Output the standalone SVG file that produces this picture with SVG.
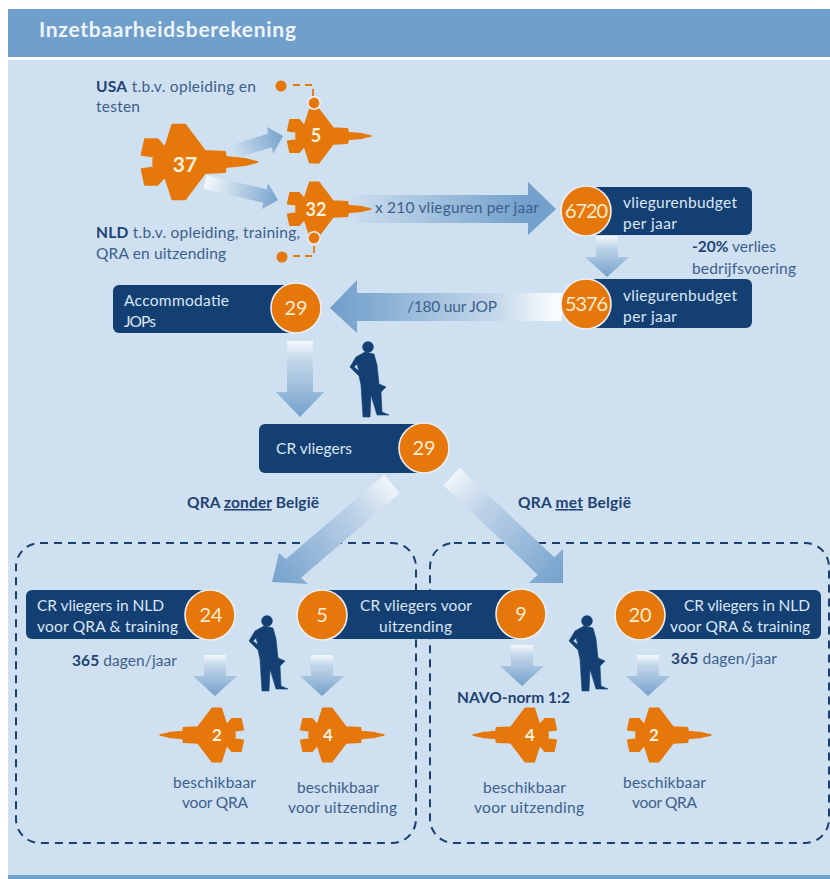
<svg xmlns="http://www.w3.org/2000/svg" width="830" height="879" viewBox="0 0 830 879">
<style>
text{font-family:"Lato","Open Sans","Liberation Sans",sans-serif;font-size:15.5px;fill:#3d5f8c}
.b{font-weight:700;fill:#1f4272}
.w{fill:#dbe7f3}
.n{fill:#fdebd2;font-size:20px;text-anchor:middle}
.j{fill:#fdf0dc;font-weight:700;text-anchor:middle}
.box{fill:#143f73}
.c{fill:#e5770b;stroke:#e9eff5;stroke-width:1.6}
.jet{fill:#e5770b;stroke:#e5770b;stroke-width:6;stroke-linejoin:round}
.pilot{fill:#143f73;fill-rule:evenodd;stroke:#143f73;stroke-width:.6;stroke-linejoin:round}
.dash{fill:none;stroke:#1a3f70;stroke-width:2;stroke-dasharray:8 6}
.odash{fill:none;stroke:#e5770b;stroke-width:1.8;stroke-dasharray:7 5}
.dot{fill:#e5770b}
</style>
<defs>
<linearGradient id="gDown" x1="0" y1="0" x2="0" y2="1"><stop offset="0" stop-color="#f4f8fc"/><stop offset=".25" stop-color="#c4d7ea"/><stop offset="1" stop-color="#74a1cc"/></linearGradient>
<linearGradient id="gR" gradientUnits="userSpaceOnUse" x1="345" y1="0" x2="556" y2="0"><stop offset="0" stop-color="#cfe0f0"/><stop offset=".85" stop-color="#74a1cc"/></linearGradient>
<linearGradient id="gL" gradientUnits="userSpaceOnUse" x1="330" y1="0" x2="562" y2="0"><stop offset="0" stop-color="#6f9ecb"/><stop offset=".72" stop-color="#c5d8eb"/><stop offset=".97" stop-color="#fafcfe"/></linearGradient>
<linearGradient id="gD1" gradientUnits="userSpaceOnUse" x1="392" y1="484" x2="272" y2="582"><stop offset="0" stop-color="#f0f5fa"/><stop offset=".3" stop-color="#bdd2e8"/><stop offset="1" stop-color="#74a1cc"/></linearGradient>
<linearGradient id="gD2" gradientUnits="userSpaceOnUse" x1="451" y1="476" x2="563" y2="583"><stop offset="0" stop-color="#f0f5fa"/><stop offset=".3" stop-color="#bdd2e8"/><stop offset="1" stop-color="#74a1cc"/></linearGradient>
<linearGradient id="gS1" gradientUnits="userSpaceOnUse" x1="232" y1="152" x2="283" y2="136"><stop offset="0" stop-color="#cfe0f0"/><stop offset="1" stop-color="#78a4ce"/></linearGradient>
<linearGradient id="gS2" gradientUnits="userSpaceOnUse" x1="205" y1="182" x2="278" y2="200"><stop offset="0" stop-color="#f4f8fc"/><stop offset="1" stop-color="#78a4ce"/></linearGradient>
<polygon id="down" points="-11,0 11,0 11,21 22,21 0,41 -22,21 -11,21" fill="url(#gDown)"/>
<path id="jetShape" class="jet" d="M187,0 150,-9 92,-15 90,-30 30,-33 -30,-112 -68,-112 -90,-43 -112,-68 -150,-68 -160,-22 -115,-15 -125,-10 -125,10 -115,15 -160,22 -150,68 -112,68 -90,43 -68,112 -30,112 30,33 90,30 92,15 150,9Z"/>
<g id="pilotShape"><circle cx="0" cy="0" r="5.7" fill="#143f73"/><path class="pilot" d="M-3,5 -12,10 -18,20 -9,29 -7,38 -5,70 2,70 3,48 9,68 21,68 14,65 13,45 18,40 11,37 9,18 6,7Z M-11,17 -14,20 -9,24Z"/></g>
</defs>
<rect x="0" y="0" width="830" height="879" fill="#fff"/>
<rect x="8" y="60" width="822" height="815" fill="#cfe0f0"/>
<rect x="8" y="9" width="822" height="48" fill="#6f9fcb"/>
<rect x="8" y="875" width="822" height="4" fill="#6f9fcb"/>
<text x="39" y="37" textLength="257" style="font-size:21px;font-weight:700;fill:#eef4fa">Inzetbaarheidsberekening</text>
<rect id="scenarioLeft" class="dash" x="16" y="543" width="400" height="300" rx="24"/>
<rect id="scenarioRight" class="dash" x="430" y="543" width="399" height="300" rx="24"/>
<g id="connectors">
<path class="odash" d="M293,85H313V96M314,246V256H292"/>
<polygon points="230,145.3 268,133.8 267,127 283,136 273,154 272,147.2 234,158.7" fill="url(#gS1)"/>
<polygon points="206.7,175.2 266.7,189.2 268,183 278,200 262,209 263.3,202.8 203.3,188.8" fill="url(#gS2)"/>
<polygon points="345,195 528,195 528,182 556,209 528,235 528,223 345,223" fill="url(#gR)"/>
<use href="#down" transform="translate(607,236)"/>
<polygon points="562,293 357,293 357,280 330,308 357,333 357,321 562,321" fill="url(#gL)"/>
<polygon points="287,341 313,341 313,392 324,392 300,417 276,392 287,392" fill="url(#gDown)"/>
<polygon points="399.6,493.3 301,577.8 308,584 272,582 279,553 286,559 384.4,474.7" fill="url(#gD1)"/>
<polygon points="443.2,485.2 537.7,574.7 529,583 563,583 563,549 554.3,557.3 459.8,467.8" fill="url(#gD2)"/>
<use href="#down" transform="translate(215,655)"/>
<use href="#down" transform="translate(322,655)"/>
<use href="#down" transform="translate(522,645)"/>
<use href="#down" transform="translate(648,655)"/>
</g>
<g id="legendUSA"><circle class="dot" cx="281" cy="86" r="5.5"/>
<text x="96" y="92" textLength="160"><tspan class="b">USA</tspan> t.b.v. opleiding en</text><text x="96" y="112" textLength="44">testen</text></g>
<g id="jet37"><use href="#jetShape" transform="translate(195,162) scale(.333)"/><text class="j" x="185" y="172" style="font-size:21px">37</text></g>
<g id="jet5"><use href="#jetShape" transform="translate(326,136) scale(.24)"/><circle class="c" cx="314" cy="103" r="6.2"/><text class="j" x="316" y="142" style="font-size:18px">5</text></g>
<g id="jet32"><use href="#jetShape" transform="translate(326,209) scale(.24)"/><text class="j" x="316" y="216" style="font-size:18px">32</text></g>
<g id="legendNLD"><circle class="c" cx="314" cy="238" r="6.2"/><circle class="dot" cx="282" cy="257" r="5.5"/>
<text x="96" y="238" textLength="204"><tspan class="b">NLD</tspan> t.b.v. opleiding, training,</text><text x="96" y="259" textLength="130">QRA en uitzending</text></g>
<text id="labelHours" x="375" y="213" textLength="164">x 210 vlieguren per jaar</text>
<g id="budget6720"><rect class="box" x="590" y="187" width="162" height="48" rx="6"/><circle class="c" cx="586" cy="211" r="25"/><text class="n" x="565" y="218" textLength="43" style="text-anchor:start">6720</text>
<text class="w" x="623" y="208" textLength="114">vliegurenbudget</text><text class="w" x="623" y="229" textLength="54">per jaar</text></g>
<text id="labelLoss1" x="692" y="252" textLength="84"><tspan class="b">-20%</tspan> verlies</text>
<text id="labelLoss2" x="692" y="274" textLength="104">bedrijfsvoering</text>
<g id="budget5376"><rect class="box" x="590" y="279" width="162" height="49" rx="6"/><circle class="c" cx="586" cy="304" r="25"/><text class="n" x="565" y="311" textLength="43" style="text-anchor:start">5376</text>
<text class="w" x="623" y="301" textLength="114">vliegurenbudget</text><text class="w" x="623" y="322" textLength="54">per jaar</text></g>
<text id="labelJOP" x="407" y="312" textLength="90">/180 uur JOP</text>
<g id="accommodatie"><rect class="box" x="113" y="285" width="180" height="48" rx="6"/><circle class="c" cx="296" cy="308" r="25"/><text class="n" x="296" y="315">29</text>
<text class="w" x="124" y="306" textLength="105">Accommodatie</text><text class="w" x="124" y="327" textLength="32">JOPs</text></g>
<use id="pilot1" href="#pilotShape" transform="translate(368,347)"/>
<g id="crVliegers"><rect class="box" x="259" y="424" width="165" height="49" rx="6"/><circle class="c" cx="424" cy="448" r="25"/><text class="n" x="424" y="455">29</text>
<text class="w" x="276" y="454" textLength="76">CR vliegers</text></g>
<text id="labelZonder" class="b" x="187" y="508" textLength="132">QRA <tspan text-decoration="underline">zonder</tspan> België</text>
<text id="labelMet" class="b" x="518" y="508" textLength="113">QRA <tspan text-decoration="underline">met</tspan> België</text>
<g id="crNld24"><rect class="box" x="26" y="590" width="179" height="49" rx="6"/><circle class="c" cx="210" cy="615" r="25"/><text class="n" x="211" y="622">24</text>
<text class="w" x="37" y="611" textLength="127">CR vliegers in NLD</text><text class="w" x="37" y="632" textLength="141">voor QRA &amp; training</text></g>
<g id="crUitzending"><rect class="box" x="327" y="590" width="189" height="49"/><circle class="c" cx="322" cy="615" r="25"/><text class="n" x="322" y="622">5</text><circle class="c" cx="521" cy="614" r="25"/><text class="n" x="521" y="621">9</text>
<text class="w" x="360" y="611" textLength="112">CR vliegers voor</text><text class="w" x="379" y="632" textLength="73">uitzending</text></g>
<g id="crNld20"><rect class="box" x="645" y="590" width="176" height="49" rx="6"/><circle class="c" cx="640" cy="615" r="25"/><text class="n" x="640" y="622">20</text>
<text class="w" x="684" y="611" textLength="126">CR vliegers in NLD</text><text class="w" x="670" y="632" textLength="140">voor QRA &amp; training</text></g>
<use id="pilot2" href="#pilotShape" transform="translate(267,621)"/>
<use id="pilot3" href="#pilotShape" transform="translate(587,621)"/>
<text id="days1" x="72" y="666" textLength="105"><tspan class="b">365</tspan> dagen/jaar</text>
<text id="days2" x="671" y="664" textLength="106"><tspan class="b">365</tspan> dagen/jaar</text>
<text id="navo" class="b" x="457" y="703" textLength="113">NAVO-norm 1:2</text>
<g id="jetQraL"><use href="#jetShape" transform="translate(205,735) scale(-.24,.24)"/><text class="j" x="217" y="741" style="font-size:17px">2</text>
<text x="173" y="788" textLength="83">beschikbaar</text><text x="182" y="808" textLength="66">voor QRA</text></g>
<g id="jetUitL"><use href="#jetShape" transform="translate(339,735) scale(.24)"/><text class="j" x="328" y="741" style="font-size:17px">4</text>
<text x="297" y="793" textLength="82">beschikbaar</text><text x="288" y="813" textLength="109">voor uitzending</text></g>
<g id="jetUitR"><use href="#jetShape" transform="translate(518,735) scale(-.24,.24)"/><text class="j" x="530" y="741" style="font-size:17px">4</text>
<text x="483" y="793" textLength="83">beschikbaar</text><text x="474" y="813" textLength="110">voor uitzending</text></g>
<g id="jetQraR"><use href="#jetShape" transform="translate(666,735) scale(.24)"/><text class="j" x="654" y="741" style="font-size:17px">2</text>
<text x="623" y="788" textLength="83">beschikbaar</text><text x="632" y="808" textLength="65">voor QRA</text></g>
</svg>
